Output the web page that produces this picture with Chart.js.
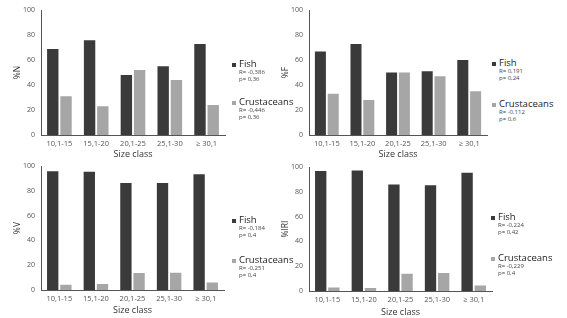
<!DOCTYPE html>
<html>
<head>
<meta charset="utf-8">
<script src="https://cdn.jsdelivr.net/npm/chart.js@4"></script>
<style>
  html, body { margin: 0; padding: 0; background: #fff; }
  body { width: 567px; height: 318px; position: relative; overflow: hidden; font-family: "Open Sans", "Noto Sans", sans-serif; }
  .cv { position: absolute; }
  .lg { position: absolute; white-space: nowrap; color: #333; line-height: 1; }
  .big { font-size: 9.5px; color: #222; }
  .small { font-size: 6px; color: #444; }
  .sq { position: absolute; width: 4px; height: 4px; }
</style>
</head>
<body>
<canvas id="cN" class="cv" style="left:0px;top:0px"></canvas>
<canvas id="cF" class="cv" style="left:268px;top:0px"></canvas>
<canvas id="cV" class="cv" style="left:0px;top:156px"></canvas>
<canvas id="cI" class="cv" style="left:268px;top:157px"></canvas>
<div id="legends"></div>
<script>
// ---- data ----
const categories = ['10,1-15', '15,1-20', '20,1-25', '25,1-30', '\u2265 30,1'];
const yTicks = [0, 20, 40, 60, 80, 100];
const seriesNames = ['Fish', 'Crustaceans'];

const fishN = [69, 76, 48, 55, 73];
const crustN = [31, 23, 52, 44, 24];
const fishF = [67, 73, 50, 51, 60];
const crustF = [33, 28, 50, 47, 35];
const fishV = [96, 95.5, 86.5, 86.5, 93.5];
const crustV = [4.2, 4.8, 13.8, 14, 6.1];
const fishIRI = [97, 97.3, 86, 85.4, 95.5];
const crustIRI = [2.9, 2.4, 14, 14.6, 4.5];

const statsFishN = ['R= -0,386', 'p= 0,36'];
const statsCrustN = ['R= -0,446', 'p= 0,36'];
const statsFishF = ['R= 0,191', 'p= 0,24'];
const statsCrustF = ['R= -0,112', 'p= 0,6'];
const statsFishV = ['R= -0,184', 'p= 0,4'];
const statsCrustV = ['R= -0,251', 'p= 0,4'];
const statsFishIRI = ['R= -0,224', 'p= 0,42'];
const statsCrustIRI = ['R= -0,229', 'p= 0,4'];

const xTitle = 'Size class';

// ---- styles ----
const FISH_COLOR = '#3a3a3a';
const CRUST_COLOR = '#a6a6a6';
const FONT = '"Open Sans", "Noto Sans", sans-serif';

function makeChart(id, w, h, padTop, xHeight, yTitle, fish, crust) {
  const cv = document.getElementById(id);
  cv.width = w; cv.height = h;
  cv.style.width = w + 'px'; cv.style.height = h + 'px';
  return new Chart(cv, {
    type: 'bar',
    data: {
      labels: categories,
      datasets: [
        { label: seriesNames[0], data: fish, backgroundColor: FISH_COLOR, categoryPercentage: 0.72, barPercentage: 0.86 },
        { label: seriesNames[1], data: crust, backgroundColor: CRUST_COLOR, categoryPercentage: 0.72, barPercentage: 0.86 }
      ]
    },
    options: {
      responsive: false,
      animation: false,
      devicePixelRatio: 1,
      layout: { padding: { top: padTop, right: 3, bottom: 0, left: 0 } },
      plugins: { legend: { display: false }, tooltip: { enabled: false } },
      scales: {
        x: {
          grid: { display: false, drawTicks: false },
          border: { display: true, color: '#555', width: 1 },
          ticks: { color: '#555', font: { family: FONT, size: 7.5 }, padding: 4, maxRotation: 0 },
          title: { display: true, text: xTitle, color: '#333', font: { family: FONT, size: 9 }, padding: { top: 0, bottom: 0 } },
          afterFit: (s) => { s.height = xHeight; }
        },
        y: {
          min: 0, max: 100,
          afterBuildTicks: (s) => { s.ticks = yTicks.map(v => ({ value: v })); },
          grid: { display: false, drawTicks: false },
          border: { display: true, color: '#555', width: 1 },
          ticks: { color: '#555', font: { family: FONT, size: 7 }, padding: 6 },
          title: { display: true, text: yTitle, color: '#333', font: { family: FONT, size: 8.5 }, padding: { top: 12, bottom: 0 } },
          afterFit: (s) => { s.width = 41; }
        }
      }
    }
  });
}

makeChart('cN', 228, 160, 8, 25, '%N', fishN, crustN);
makeChart('cF', 222, 160, 7, 25, '%F', fishF, crustF);
makeChart('cV', 227, 160, 8, 26, '%V', fishV, crustV);
makeChart('cI', 227, 161, 8, 27, '%IRI', fishIRI, crustIRI);

// ---- legends (HTML text) ----
const legendBox = document.getElementById('legends');
function addLegend(x, yFish, yCrust, fishStats, crustStats) {
  const items = [
    [seriesNames[0], FISH_COLOR, yFish, fishStats],
    [seriesNames[1], CRUST_COLOR, yCrust, crustStats]
  ];
  items.forEach(([name, color, y, stats]) => {
    const sq = document.createElement('div');
    sq.className = 'sq';
    sq.style.left = x + 'px'; sq.style.top = (y - 2) + 'px'; sq.style.background = color;
    legendBox.appendChild(sq);
    const t = document.createElement('div');
    t.className = 'lg big';
    t.style.left = (x + 7) + 'px'; t.style.top = (y - 6) + 'px';
    t.textContent = name;
    legendBox.appendChild(t);
    stats.forEach((s, i) => {
      const d = document.createElement('div');
      d.className = 'lg small';
      d.style.left = (x + 7) + 'px'; d.style.top = (y + 4 + i * 6.5) + 'px';
      d.textContent = s;
      legendBox.appendChild(d);
    });
  });
}
addLegend(232, 65, 103, statsFishN, statsCrustN);
addLegend(492, 64, 105, statsFishF, statsCrustF);
addLegend(232, 221, 261, statsFishV, statsCrustV);
addLegend(491, 218, 259, statsFishIRI, statsCrustIRI);
</script>
</body>
</html>
